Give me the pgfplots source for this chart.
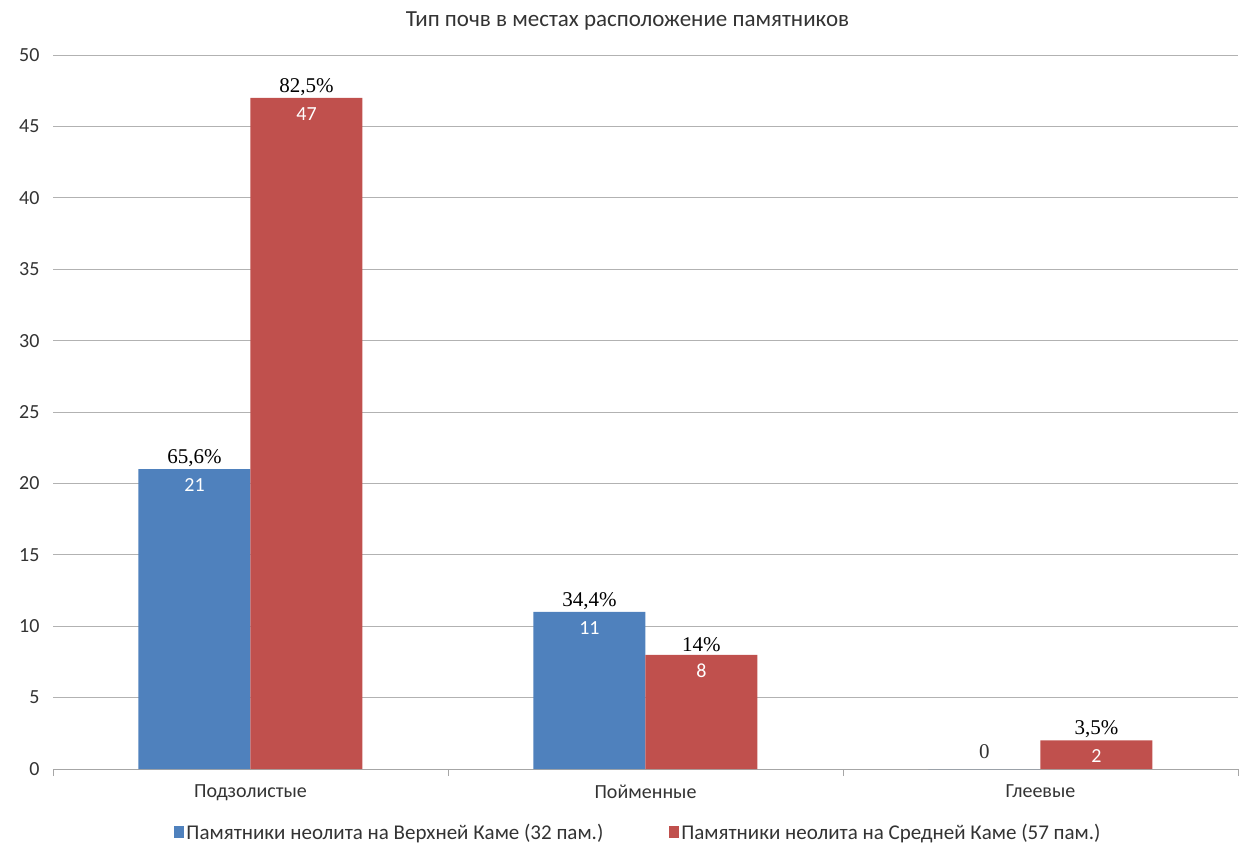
\documentclass[border=0pt]{standalone}
\usepackage{pgfplots}
\pgfplotsset{compat=1.18}
\usepackage{fontspec}
\setmainfont{Carlito}
\newfontfamily\seriffont{Liberation Serif}
\definecolor{cblue}{HTML}{4F81BD}
\definecolor{cred}{HTML}{C0504D}
\definecolor{txt}{HTML}{333333}
\begin{document}
\begin{tikzpicture}[font=\fontsize{20}{24}\selectfont]
\path[use as bounding box] (-53pt,-81pt) rectangle (1193pt,769pt);
\begin{axis}[
  at={(0pt,0pt)}, anchor=south west,
  scale only axis, width=1185pt, height=714pt,
  xmin=-0.5, xmax=2.5, ymin=0, ymax=50,
  ytick={0,5,...,50},
  xtick={0,1,2},
  xticklabels={Подзолистые,Пойменные,Глеевые},
  extra x ticks={-0.5,0.5,1.5,2.5},
  extra x tick labels={},
  extra x tick style={major tick length=7pt, tick style={gray!70, line width=0.6pt}, tick pos=bottom, xtick align=outside},
  major tick length=0pt,
  ymajorgrids,
  grid style={gray!60, line width=0.7pt},
  axis x line*=bottom,
  axis y line*=left,
  y axis line style={draw=none},
  x axis line style={gray!70, line width=0.7pt, -},
  /pgf/number format/assume math mode=true,
  tick label style={font=\fontsize{20}{24}\selectfont, text=txt},
  yticklabel style={xshift=-10pt},
  xticklabel style={yshift=-12pt},
  title={Тип почв в местах расположение памятников},
  title style={at={(0.5,1)}, anchor=center, yshift=28pt, xshift=-18pt, text=txt, font=\fontsize{23}{26}\selectfont},
  ybar, bar width=112pt,
  legend style={at={(0.5,-81pt)}, anchor=south, yshift=5pt, xshift=-7pt, draw=none, fill=none,
    legend columns=2, font=\fontsize{21}{24}\selectfont, text=txt,
    /tikz/every even column/.append style={column sep=64pt}},
  legend image code/.code={\fill[#1] (0pt,-6pt) rectangle (10pt,6pt);},
]
\addplot[fill=cblue, draw=none, bar shift=-56pt] coordinates {(0,21) (1,11) (2,0)};
\addlegendentry{Памятники неолита на Верхней Каме (32 пам.)}
\addplot[fill=cred, draw=none, bar shift=56pt] coordinates {(0,47) (1,8) (2,2)};
\addlegendentry{Памятники неолита на Средней Каме (57 пам.)}
% inner labels
\addplot[forget plot, draw=none, fill=none, bar shift=-56pt, point meta=explicit symbolic,
  nodes near coords, every node near coord/.append style={anchor=north, text=white, yshift=-6pt, font=\fontsize{20}{24}\selectfont}]
  coordinates {(0,21) [21] (1,11) [11]};
\addplot[forget plot, draw=none, fill=none, bar shift=56pt, point meta=explicit symbolic,
  nodes near coords, every node near coord/.append style={anchor=north, text=white, yshift=-6pt, font=\fontsize{20}{24}\selectfont}]
  coordinates {(0,47) [47] (1,8) [8] (2,2) [2]};
% percentage labels
\addplot[forget plot, draw=none, fill=none, bar shift=-56pt, point meta=explicit symbolic,
  nodes near coords, every node near coord/.append style={anchor=south, text=black, yshift=-1pt, font=\seriffont\fontsize{21}{24}\selectfont}]
  coordinates {(0,21) [65,6\%] (1,11) [34,4\%]};
\addplot[forget plot, draw=none, fill=none, bar shift=-56pt, point meta=explicit symbolic,
  nodes near coords, every node near coord/.append style={anchor=south, text=txt, yshift=7pt, font=\seriffont\fontsize{21}{24}\selectfont}]
  coordinates {(2,0) [0]};
\addplot[forget plot, draw=none, fill=none, bar shift=56pt, point meta=explicit symbolic,
  nodes near coords, every node near coord/.append style={anchor=south, text=black, yshift=-1pt, font=\seriffont\fontsize{21}{24}\selectfont}]
  coordinates {(0,47) [82,5\%] (1,8) [14\%] (2,2) [3,5\%]};
\end{axis}
\end{tikzpicture}
\end{document}
